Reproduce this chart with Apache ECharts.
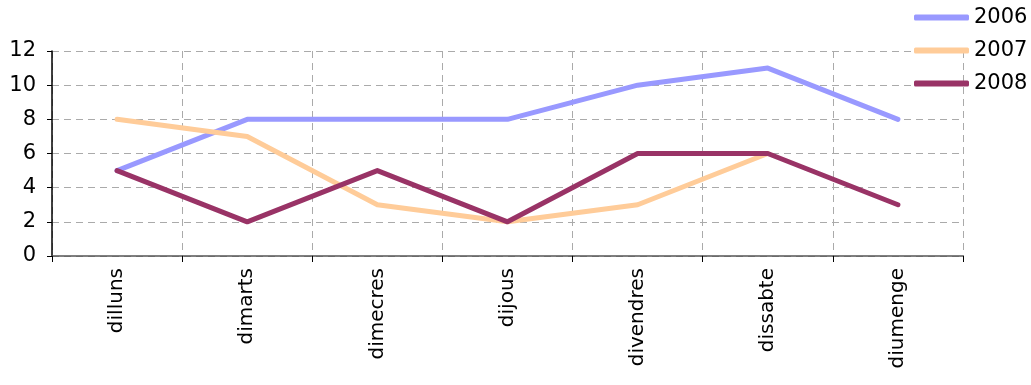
<!DOCTYPE html>
<html><head><meta charset="utf-8">
<script src="https://cdn.jsdelivr.net/npm/echarts@6/dist/echarts.min.js"></script>
<style>html,body{margin:0;padding:0;background:#fff}#c{width:1031px;height:385px}</style>
</head><body><div id="c"></div>
<script>
const categories = ['dilluns','dimarts','dimecres','dijous','divendres','dissabte','diumenge'];
const s2006 = [5, 8, 8, 8, 10, 11, 8];
const s2007 = [8, 7, 3, 2, 3, 6, null];
const s2008 = [5, 2, 5, 2, 6, 6, 3];
const yTicks = {min: 0, max: 12, interval: 2};

const chart = echarts.init(document.getElementById('c'));
const font = 'DejaVu Sans, Verdana, sans-serif';
function ser(name, data, color) {
  return {name, type: 'line', data, showSymbol: false, symbol: 'none',
    lineStyle: {width: 5, color, cap: 'round', join: 'round'}, itemStyle: {color},
    connectNulls: false, animation: false};
}
chart.setOption({
  animation: false,
  grid: {left: 52, right: 68, top: 51, bottom: 129, containLabel: false},
  legend: {orient: 'vertical', left: 909, top: 2, itemWidth: 55, itemHeight: 6, itemGap: 12,
    icon: 'roundRect', textStyle: {fontFamily: font, fontSize: 21, color: '#000'},
    data: ['2006','2007','2008']},
  xAxis: {type: 'category', data: categories, boundaryGap: true,
    axisLine: {lineStyle: {color: '#555', width: 1.5}},
    axisTick: {show: true, length: 6, lineStyle: {color: '#000'}},
    splitLine: {show: true, lineStyle: {color: '#aaa', type: [7,5]}},
    axisLabel: {rotate: 90, margin: 12, fontFamily: font, fontSize: 20, color: '#000'}},
  yAxis: {type: 'value', min: yTicks.min, max: yTicks.max, interval: yTicks.interval,
    axisLine: {show: true, lineStyle: {color: '#000', width: 1.5}},
    axisTick: {show: true, length: 5, lineStyle: {color: '#000'}},
    splitLine: {show: true, lineStyle: {color: '#aaa', type: [7,5]}},
    axisLabel: {margin: 16, fontFamily: font, fontSize: 21, color: '#000'}},
  series: [ser('2006', s2006, '#9999FF'), ser('2007', s2007, '#FFCC99'), ser('2008', s2008, '#993366')]
});
</script></body></html>
